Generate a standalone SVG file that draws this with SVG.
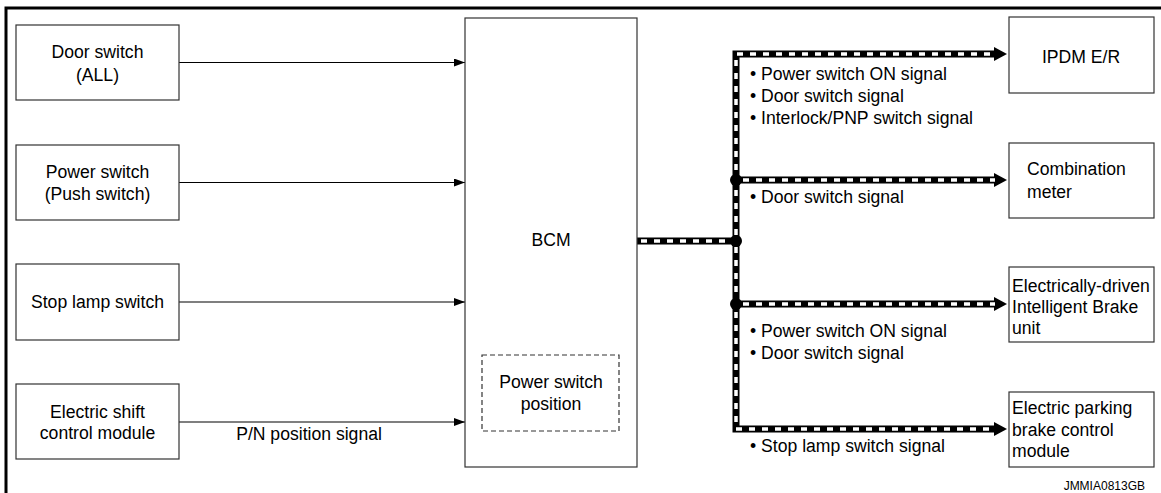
<svg xmlns="http://www.w3.org/2000/svg" width="1161" height="493" viewBox="0 0 1161 493">
<style>
.box{fill:#fff;stroke:#333;stroke-width:1.2}
.dbox{fill:none;stroke:#333;stroke-width:1.2;stroke-dasharray:5 3}
text{font-family:"Liberation Sans",Arial,sans-serif;font-size:17.6px;fill:#000}
.c{text-anchor:middle}
.thin{stroke:#000;stroke-width:1.2;fill:none}
.busb{stroke:#000;stroke-width:7;fill:none;stroke-linejoin:miter}
.busw{stroke:#fff;stroke-width:3.5;fill:none;stroke-dasharray:6 7}
</style>
<defs>
<marker id="ta" markerUnits="userSpaceOnUse" markerWidth="12" markerHeight="8" refX="11" refY="4" orient="auto"><path d="M0,0 L11,4 L0,8 Z" fill="#000"/></marker>
<marker id="ba" markerUnits="userSpaceOnUse" markerWidth="14" markerHeight="16" refX="1" refY="7" orient="auto"><path d="M0,0 L13,7 L0,14 Z" fill="#000"/></marker>
</defs>
<rect x="0" y="0" width="1161" height="493" fill="#fff"/>
<path d="M6,493 V8 H1161" fill="none" stroke="#000" stroke-width="3"/>

<g id="connectors">
<line class="thin" x1="179" y1="62.5" x2="465" y2="62.5" marker-end="url(#ta)"/>
<line class="thin" x1="179" y1="182.5" x2="465" y2="182.5" marker-end="url(#ta)"/>
<line class="thin" x1="179" y1="302" x2="465" y2="302" marker-end="url(#ta)"/>
<line class="thin" x1="179" y1="422" x2="465" y2="422" marker-end="url(#ta)"/>
<text x="309" y="440" class="c">P/N position signal</text>

<path class="busb" d="M637,241 H736"/>
<path class="busb" d="M736,241 V54 H995" marker-end="url(#ba)"/>
<path class="busb" d="M736,241 V429 H995" marker-end="url(#ba)"/>
<path class="busb" d="M736,180 H995" marker-end="url(#ba)"/>
<path class="busb" d="M736,304 H995" marker-end="url(#ba)"/>
<path class="busw" d="M641,241 H730"/>
<path class="busw" d="M736,235 V54 H995"/>
<path class="busw" d="M736,247 V429 H995"/>
<path class="busw" d="M743,180 H995"/>
<path class="busw" d="M743,304 H995"/>
<circle cx="736" cy="180" r="6" fill="#000"/>
<circle cx="736" cy="241" r="6" fill="#000"/>
<circle cx="736" cy="304" r="6" fill="#000"/>

<text x="750" y="80">• Power switch ON signal</text>
<text x="750" y="102">• Door switch signal</text>
<text x="750" y="124">• Interlock/PNP switch signal</text>
<text x="750" y="203">• Door switch signal</text>
<text x="750" y="337">• Power switch ON signal</text>
<text x="750" y="359">• Door switch signal</text>
<text x="750" y="452">• Stop lamp switch signal</text>
</g>

<g id="door-switch">
<rect class="box" x="16" y="25" width="163" height="75"/>
<text x="97.5" y="58" class="c">Door switch</text>
<text x="97.5" y="81" class="c">(ALL)</text>
</g>
<g id="power-switch">
<rect class="box" x="16" y="145" width="163" height="75"/>
<text x="97.5" y="178" class="c">Power switch</text>
<text x="97.5" y="200" class="c">(Push switch)</text>
</g>
<g id="stop-lamp-switch">
<rect class="box" x="16" y="264" width="163" height="76"/>
<text x="97.5" y="308" class="c">Stop lamp switch</text>
</g>
<g id="electric-shift">
<rect class="box" x="16" y="384" width="163" height="75"/>
<text x="97.5" y="418" class="c">Electric shift</text>
<text x="97.5" y="439" class="c">control module</text>
</g>

<g id="bcm">
<rect class="box" x="465" y="18" width="172" height="449"/>
<text x="551" y="246" class="c">BCM</text>
<rect class="dbox" x="482" y="355" width="137" height="76"/>
<text x="551" y="388" class="c">Power switch</text>
<text x="551" y="410" class="c">position</text>
</g>

<g id="ipdm">
<rect class="box" x="1009" y="17" width="145" height="76"/>
<text x="1081" y="63" class="c">IPDM E/R</text>
</g>
<g id="combination-meter">
<rect class="box" x="1009" y="143" width="145" height="75"/>
<text x="1027" y="175">Combination</text>
<text x="1027" y="198">meter</text>
</g>
<g id="brake-unit">
<rect class="box" x="1009" y="267" width="145" height="75"/>
<text x="1012" y="292">Electrically-driven</text>
<text x="1012" y="313">Intelligent Brake</text>
<text x="1012" y="334">unit</text>
</g>
<g id="parking-brake">
<rect class="box" x="1009" y="392" width="145" height="75"/>
<text x="1012" y="414">Electric parking</text>
<text x="1012" y="436">brake control</text>
<text x="1012" y="457">module</text>
</g>
<text x="1145" y="490" text-anchor="end" style="font-size:12px">JMMIA0813GB</text>
</svg>
